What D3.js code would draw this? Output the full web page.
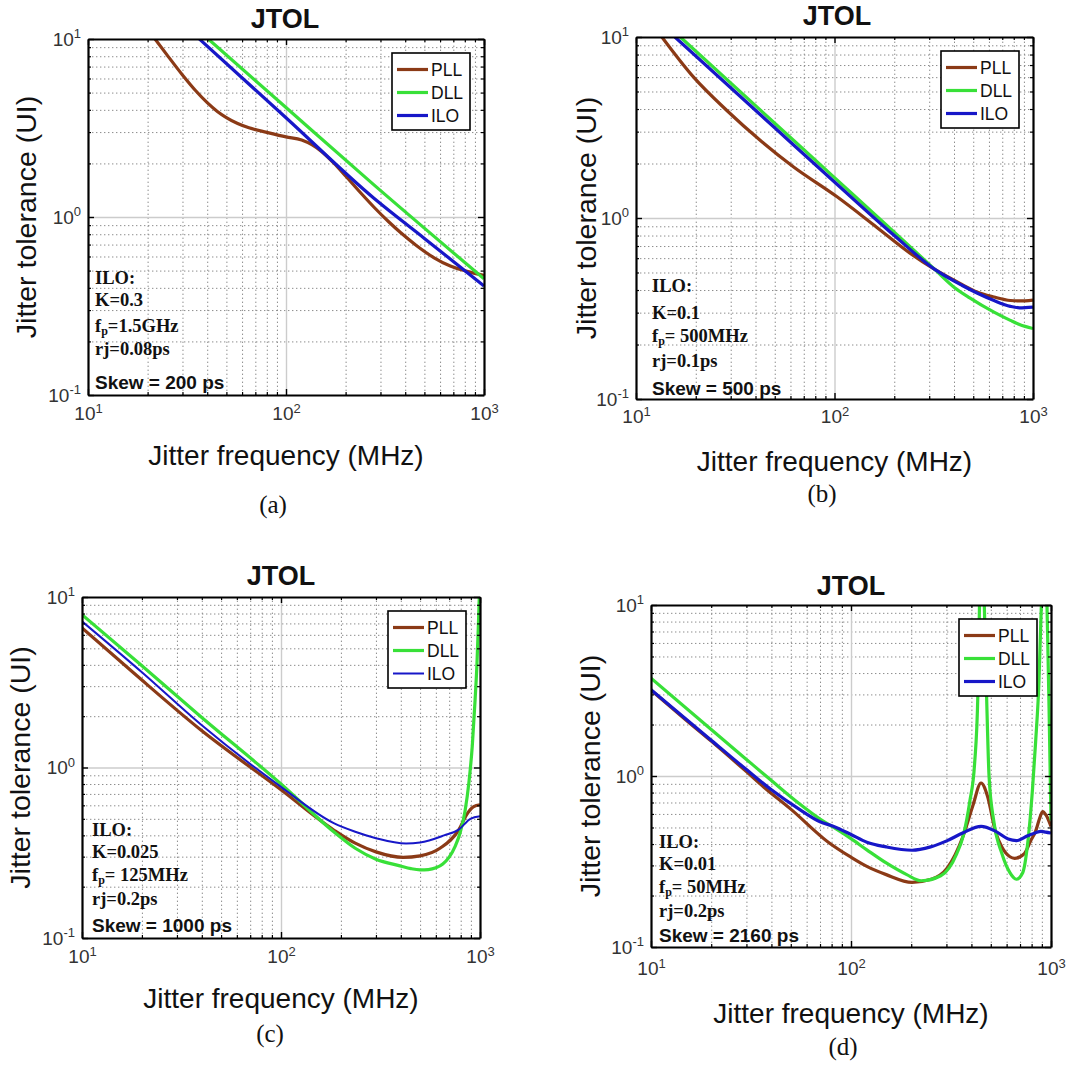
<!DOCTYPE html>
<html>
<head>
<meta charset="utf-8">
<script src="https://cdn.jsdelivr.net/npm/d3@7"></script>
<style>
  body { margin: 0; background: #fff; }
  text { font-family: Arial, "Liberation Sans", sans-serif; }
</style>
</head>
<body>
<svg id="fig" width="1088" height="1084"></svg>
<script>
// series: [jitter frequency (MHz), jitter tolerance (UI)]
const seriesNames = ["PLL", "DLL", "ILO"];

// (a) skew 200 ps
const pllA = [[21.8,10],[25,8.17],[30,6.28],[35,5.12],[40,4.39],[45,3.92],[50,3.62],[57,3.35],[65,3.17],[80,2.99],[100,2.82],[120,2.71],[135,2.55],[150,2.35],[175,2.0],[200,1.7],[240,1.355],[280,1.127],[330,0.94],[380,0.815],[457,0.69],[560,0.59],[676,0.53],[850,0.49],[1000,0.47]];
const dllA = [[40.5,10],[100,4.12],[279,1.51],[1000,0.45]];
const iloA = [[36.5,10],[100,3.61],[279,1.27],[500,0.758],[1000,0.41]];

// (b) skew 500 ps
const pllB = [[13.5,10],[19.5,6.0],[28.6,3.94],[42.2,2.69],[62,1.92],[103,1.31],[163,0.89],[240,0.64],[320,0.52],[438,0.43],[522,0.39],[636,0.366],[769,0.35],[855,0.348],[1000,0.352]];
const dllB = [[16.7,10],[50,3.34],[100,1.67],[200,0.835],[320,0.52],[400,0.415],[480,0.362],[636,0.302],[769,0.272],[855,0.258],[1000,0.245]];
const iloB = [[15.7,10],[50,3.15],[100,1.58],[200,0.8],[320,0.52],[438,0.425],[522,0.385],[636,0.35],[769,0.325],[855,0.319],[1000,0.322]];

// (c) skew 1000 ps
const pllC = [[10,6.58],[18.2,3.58],[39.3,1.67],[100,0.74],[184,0.43],[236,0.36],[300,0.32],[411,0.297],[500,0.303],[632,0.337],[785,0.434],[857,0.53],[930,0.59],[1000,0.605]];
const dllC = [[10,7.87],[20,3.95],[39.3,2.0],[100,0.8],[184,0.42],[236,0.336],[300,0.29],[396,0.265],[450,0.255],[500,0.251],[550,0.252],[600,0.258],[650,0.272],[700,0.298],[750,0.345],[794,0.413],[840,0.55],[880,0.82],[915,1.35],[945,2.5],[965,4.0],[980,6.5],[992,10],[1000,14]];
const iloC = [[10,7.2],[20,3.62],[39.3,1.8],[100,0.77],[184,0.472],[236,0.42],[300,0.385],[425,0.358],[500,0.363],[660,0.4],[785,0.434],[895,0.5],[1000,0.517]];

// (d) skew 2160 ps
const pllD = [[10,3.18],[15,2.12],[20,1.6],[30,1.06],[36.7,0.86],[50,0.64],[77,0.41],[100,0.335],[120,0.296],[150,0.265],[202,0.239],[252,0.249],[303,0.29],[364,0.447],[407,0.673],[447,0.91],[481,0.765],[527,0.476],[568,0.384],[623,0.337],[658,0.33],[736,0.352],[792,0.419],[838,0.476],[875,0.56],[908,0.62],[945,0.59],[1000,0.507]];
const dllD = [[10,3.73],[20,1.87],[30,1.25],[40,0.94],[55,0.69],[70,0.56],[82,0.5],[100,0.43],[120,0.37],[150,0.31],[190,0.265],[225,0.244],[281,0.261],[338,0.352],[364,0.447],[392,0.703],[415,1.18],[431,3.04],[439,10],[452,60],[464,10],[476,3.04],[490,1.0],[518,0.542],[568,0.352],[623,0.272],[671,0.249],[722,0.272],[764,0.4],[808,0.834],[838,1.59],[870,3.5],[895,10],[926,60],[955,10],[978,2.5],[1000,0.55]];
const iloD = [[10,3.2],[20,1.62],[30,1.09],[40,0.83],[55,0.64],[70,0.54],[82,0.507],[100,0.455],[120,0.41],[150,0.385],[202,0.368],[250,0.385],[303,0.419],[364,0.466],[447,0.508],[527,0.476],[611,0.428],[671,0.419],[764,0.447],[838,0.466],[891,0.474],[940,0.47],[1000,0.464]];

// annotation text per panel
const notesA = ["ILO:", "K=0.3", "=1.5GHz", "rj=0.08ps", "Skew = 200 ps"];
const notesB = ["ILO:", "K=0.1", "= 500MHz", "rj=0.1ps", "Skew = 500 ps"];
const notesC = ["ILO:", "K=0.025", "= 125MHz", "rj=0.2ps", "Skew = 1000 ps"];
const notesD = ["ILO:", "K=0.01", "= 50MHz", "rj=0.2ps", "Skew = 2160 ps"];

const colors = ["#8b3a16", "#38e038", "#1717c8"];

const majorF = [10, 100, 1000];
const majorT = [0.1, 1, 10];
const minorF = d3.range(2, 10).flatMap(k => [k * 10, k * 100]);
const minorT = d3.range(2, 10).flatMap(k => [k * 0.1, k * 1]);

// layout of the four panels
const panels = [
  {box:[88,39,484,395], data:[pllA,dllA,iloA], notes:notesA, noteX:95, noteY:[277,299,325,348,382],
   title:[285,28], yLab:36, xLab:465, tickPad:12, cap:[273,513,"(a)"], iloW:3.2},
  {box:[636,37,1033,399], data:[pllB,dllB,iloB], notes:notesB, noteX:652, noteY:[285,312,335,360,388],
   title:[837,25], yLab:596, xLab:471, tickPad:11, cap:[822,502,"(b)"], iloW:3.2},
  {box:[82,597,480,938], data:[pllC,dllC,iloC], notes:notesC, noteX:92, noteY:[829,851,874,898,925],
   title:[281,585], yLab:30, xLab:1008, tickPad:12, cap:[270,1042,"(c)"], iloW:2},
  {box:[651,605,1051,947], data:[pllD,dllD,iloD], notes:notesD, noteX:659, noteY:[841,863,886,910,935],
   title:[851,595], yLab:600, xLab:1023, tickPad:15, cap:[843,1055,"(d)"], iloW:3.2}
];

const svg = d3.select("#fig");
svg.append("rect").attr("width", 1088).attr("height", 1084).attr("fill", "#fff");

function powLabel(sel) {
  sel.each(function (d) {
    const t = d3.select(this).text(null).attr("fill", "#333").style("font-size", "19px");
    t.append("tspan").text("10");
    t.append("tspan").attr("dy", "-0.55em").style("font-size", "13px")
      .text(Math.round(Math.log10(d)));
  });
}

function drawPanel(p, i) {
  const [x0, y0, x1, y1] = p.box;
  const x = d3.scaleLog().domain([10, 1000]).range([x0, x1]);
  const y = d3.scaleLog().domain([0.1, 10]).range([y1, y0]);
  const g = svg.append("g");

  // minor grid (dotted) and major grid (solid light)
  g.append("g").attr("transform", `translate(0,${y1})`)
    .call(d3.axisBottom(x).tickValues(minorF).tickSize(-(y1 - y0)).tickFormat(""))
    .call(a => a.select(".domain").remove())
    .selectAll("line").attr("stroke", "#8c8c8c").attr("stroke-dasharray", "1.4,2.6");
  g.append("g").attr("transform", `translate(${x0},0)`)
    .call(d3.axisLeft(y).tickValues(minorT).tickSize(-(x1 - x0)).tickFormat(""))
    .call(a => a.select(".domain").remove())
    .selectAll("line").attr("stroke", "#8c8c8c").attr("stroke-dasharray", "1.4,2.6");
  g.append("g").attr("transform", `translate(0,${y1})`)
    .call(d3.axisBottom(x).tickValues([100]).tickSize(-(y1 - y0)).tickFormat(""))
    .call(a => a.select(".domain").remove())
    .selectAll("line").attr("stroke", "#cccccc").attr("stroke-width", 1.4);
  g.append("g").attr("transform", `translate(${x0},0)`)
    .call(d3.axisLeft(y).tickValues([1]).tickSize(-(x1 - x0)).tickFormat(""))
    .call(a => a.select(".domain").remove())
    .selectAll("line").attr("stroke", "#cccccc").attr("stroke-width", 1.4);

  // curves
  const clipId = "clip" + i;
  g.append("clipPath").attr("id", clipId).append("rect")
    .attr("x", x0).attr("y", y0).attr("width", x1 - x0).attr("height", y1 - y0);
  const line = d3.line().x(d => x(d[0])).y(d => y(d[1])).curve(d3.curveMonotoneX);
  const curves = g.append("g").attr("clip-path", `url(#${clipId})`);
  p.data.forEach((s, k) => {
    curves.append("path").datum(s).attr("d", line).attr("fill", "none")
      .attr("stroke", colors[k]).attr("stroke-width", k === 2 ? p.iloW : 3.2)
      .attr("stroke-linejoin", "round");
  });

  // axes: ticks inside on all four sides
  const axes = [
    [d3.axisBottom(x), `translate(0,${y1})`, majorF, minorF, true, p.tickPad],
    [d3.axisTop(x), `translate(0,${y0})`, majorF, minorF, false, 0],
    [d3.axisLeft(y), `translate(${x0},0)`, majorT, minorT, true, 7],
    [d3.axisRight(y), `translate(${x1},0)`, majorT, minorT, false, 0]
  ];
  axes.forEach(([ax, tr, maj, min, labels, pad]) => {
    const a = g.append("g").attr("transform", tr);
    a.call(ax.tickValues(min).tickSize(-3).tickSizeOuter(0).tickFormat(""))
      .call(s => s.select(".domain").remove());
    a.selectAll("line").attr("stroke", "#000").attr("stroke-width", 1.2);
    const b = g.append("g").attr("transform", tr);
    b.call(ax.tickValues(maj).tickSize(-6).tickSizeOuter(0)
      .tickFormat(labels ? d => d : "").tickPadding(pad));
    b.select(".domain").attr("stroke", "#000").attr("stroke-width", 2.2);
    b.selectAll("line").attr("stroke", "#000").attr("stroke-width", 1.4);
    if (labels) b.selectAll("text").call(powLabel);
    else b.selectAll("text").remove();
  });

  // titles and axis labels
  g.append("text").attr("x", p.title[0]).attr("y", p.title[1]).attr("text-anchor", "middle")
    .style("font-size", "27px").style("font-weight", "bold").attr("fill", "#111").text("JTOL");
  g.append("text").attr("x", (x0 + x1) / 2).attr("y", p.xLab).attr("text-anchor", "middle")
    .style("font-size", "28px").attr("fill", "#111").text("Jitter frequency (MHz)");
  g.append("text").attr("transform", `translate(${p.yLab},${(y0 + y1) / 2}) rotate(-90)`)
    .attr("text-anchor", "middle").style("font-size", "28.5px").attr("fill", "#111")
    .text("Jitter tolerance (UI)");
  g.append("text").attr("x", p.cap[0]).attr("y", p.cap[1]).attr("text-anchor", "middle")
    .style("font-family", "'Liberation Serif', 'Times New Roman', serif").style("font-size", "25px")
    .attr("fill", "#111").text(p.cap[2]);

  // legend
  const lw = 78, lh = 77;
  const lx = x1 - 14 - lw, ly = y0 + 14;
  const lg = g.append("g").attr("transform", `translate(${lx},${ly})`);
  lg.append("rect").attr("width", lw).attr("height", lh).attr("fill", "#fff")
    .attr("stroke", "#000").attr("stroke-width", 1.6);
  seriesNames.forEach((n, k) => {
    const ry = 16.5 + k * 23;
    lg.append("line").attr("x1", 5).attr("x2", 36).attr("y1", ry).attr("y2", ry)
      .attr("stroke", colors[k]).attr("stroke-width", k === 2 ? p.iloW : 3.2);
    lg.append("text").attr("x", 39).attr("y", ry + 6.5).style("font-size", "17.5px")
      .attr("fill", "#111").text(n);
  });

  // ILO parameter note
  const serif = "'Liberation Serif', 'Times New Roman', serif";
  p.notes.forEach((txt, k) => {
    const t = g.append("text").attr("x", p.noteX).attr("y", p.noteY[k] + 6.5)
      .style("font-weight", "bold").attr("fill", "#111");
    if (k === 4) { t.style("font-size", "19px").text(txt); return; }
    t.style("font-family", serif).style("font-size", "18.5px");
    if (k === 2) {
      t.append("tspan").text("f");
      t.append("tspan").attr("dy", 3.5).style("font-size", "12px").text("p");
      t.append("tspan").attr("dy", -3.5).text(txt);
    } else {
      t.text(txt);
    }
  });
}

panels.forEach(drawPanel);
</script>
</body>
</html>
